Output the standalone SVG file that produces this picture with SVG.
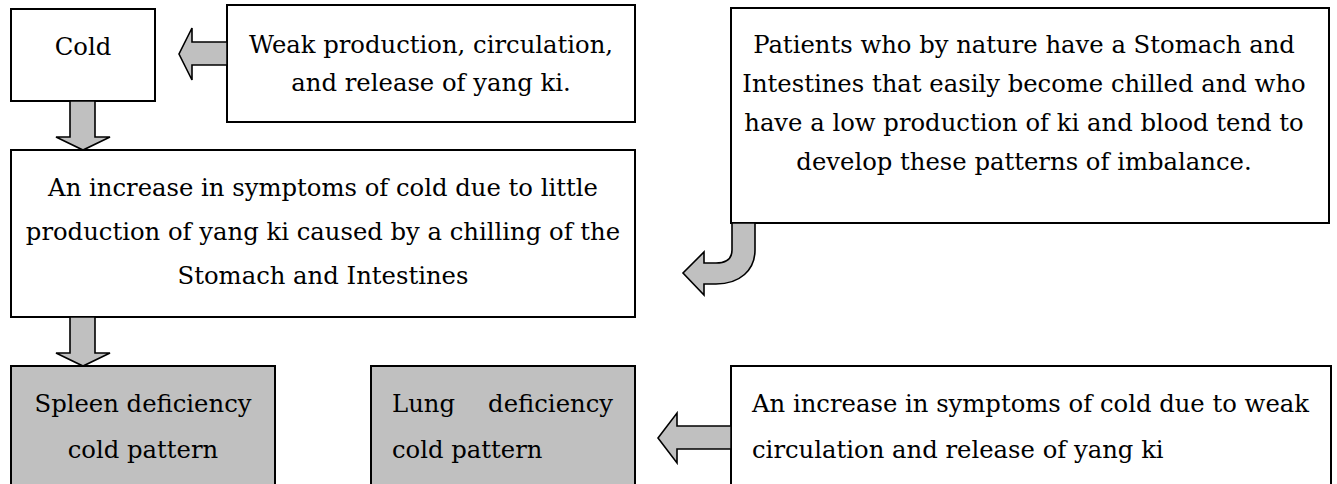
<svg xmlns="http://www.w3.org/2000/svg" width="1337" height="484" viewBox="0 0 1337 484">
<style>
.box{fill:#fff;stroke:#000;stroke-width:2}
.gbox{fill:#c0c0c0;stroke:#000;stroke-width:2}
.arr{fill:#c0c0c0;stroke:#000;stroke-width:1.6;stroke-linejoin:miter}
text{font-family:"DejaVu Serif",serif;font-size:24.3px;fill:#000}
.c{text-anchor:middle}
.e{text-anchor:end}
</style>
<rect width="1337" height="484" fill="#fff"/>
<g id="cold">
<rect class="box" x="11" y="9" width="144" height="92"/>
<text class="c" x="83" y="55">Cold</text>
</g>
<g id="weak">
<rect class="box" x="227" y="5" width="408" height="117"/>
<text class="c" x="431" y="53">Weak production, circulation,</text>
<text class="c" x="431" y="91">and release of yang ki.</text>
</g>
<g id="patients">
<rect class="box" x="731" y="8" width="598" height="215"/>
<text class="c" x="1024" y="53">Patients who by nature have a Stomach and</text>
<text class="c" x="1024" y="92">Intestines that easily become chilled and who</text>
<text class="c" x="1024" y="131">have a low production of ki and blood tend to</text>
<text class="c" x="1024" y="170">develop these patterns of imbalance.</text>
</g>
<g id="increase-production">
<rect class="box" x="11" y="150" width="624" height="167"/>
<text class="c" x="323" y="196">An increase in symptoms of cold due to little</text>
<text class="c" x="323" y="240">production of yang ki caused by a chilling of the</text>
<text class="c" x="323" y="284">Stomach and Intestines</text>
</g>
<g id="spleen">
<rect class="gbox" x="11" y="366" width="264" height="130"/>
<text class="c" x="143" y="412">Spleen deficiency</text>
<text class="c" x="143" y="458">cold pattern</text>
</g>
<g id="lung">
<rect class="gbox" x="371" y="366" width="264" height="130"/>
<text x="392" y="412">Lung</text>
<text class="e" x="613" y="412">deficiency</text>
<text x="392" y="458">cold pattern</text>
</g>
<g id="increase-circulation">
<rect class="box" x="731" y="366" width="600" height="130"/>
<text x="752" y="412" textLength="557" lengthAdjust="spacing">An increase in symptoms of cold due to weak</text>
<text x="752" y="458">circulation and release of yang ki</text>
</g>
<g id="connectors">
<path class="arr" d="M227,42 L192,42 L192,28 L179,54 L192,80 L192,65 L227,65 Z"/>
<path class="arr" d="M70,101 L95,101 L95,137 L110,137 L83,150 L56,137 L70,137 Z"/>
<path class="arr" d="M70,317 L95,317 L95,353 L110,353 L83,366 L56,353 L70,353 Z"/>
<path class="arr" d="M731,426 L677,426 L677,413 L658,438 L677,463 L677,449 L731,449 Z"/>
<path class="arr" d="M732,223 L755,223 L755,250 C755,270 740,284 716,284 L704,284 L704,295 L683,273 L704,252 L704,263 L716,263 C727,263 732,258 732,250 Z"/>
</g>
</svg>
